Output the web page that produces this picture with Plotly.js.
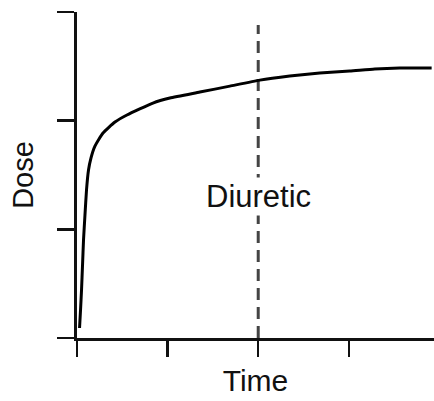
<!DOCTYPE html>
<html>
<head>
<meta charset="utf-8">
<script src="https://cdn.plot.ly/plotly-3.0.1.min.js"></script>
<style>html,body{margin:0;padding:0;background:#fff;}#chart{width:434px;height:401px;}</style>
</head>
<body>
<div id="chart"></div>
<script>
var timeValues = [0.028, 0.039, 0.050, 0.061, 0.072, 0.088, 0.105, 0.127, 0.154, 0.198, 0.287, 0.419, 0.551, 0.838, 1.025, 1.356, 1.687, 2.018, 2.348, 2.679, 3.010, 3.286, 3.561, 3.914];
var doseValues = [0.092, 0.258, 0.442, 0.672, 0.902, 1.132, 1.362, 1.546, 1.656, 1.766, 1.886, 1.987, 2.052, 2.162, 2.208, 2.263, 2.318, 2.373, 2.410, 2.438, 2.456, 2.475, 2.484, 2.484];
var xTicks = [0, 1, 2, 3];
var yTicks = [0, 1, 2, 3];
var diureticTime = 2;
var diureticLabel = "Diuretic";
var dashTop = 2.88;

var trace = {
  x: timeValues,
  y: doseValues,
  mode: 'lines',
  line: {color: '#000', width: 3, shape: 'spline', smoothing: 0.5},
  hoverinfo: 'skip'
};

var layout = {
  width: 434, height: 401,
  margin: {l: 77, r: 0, t: 12, b: 63},
  paper_bgcolor: '#fff', plot_bgcolor: '#fff',
  showlegend: false,
  font: {family: 'Liberation Sans, Arial, sans-serif', color: '#111'},
  xaxis: {
    range: [0, 3.94], tickvals: xTicks, showticklabels: false,
    ticks: 'outside', ticklen: 16, tickwidth: 2.5, tickcolor: '#111',
    showline: true, linewidth: 3, linecolor: '#111',
    showgrid: false, zeroline: false,
    title: {text: 'Time', font: {size: 30, color: '#111'}, standoff: 14}
  },
  yaxis: {
    range: [0, 3], tickvals: yTicks, showticklabels: false,
    ticks: 'outside', ticklen: 17, tickwidth: 2.5, tickcolor: '#111',
    showline: true, linewidth: 3, linecolor: '#111',
    showgrid: false, zeroline: false,
    title: {text: 'Dose', font: {size: 29, color: '#111'}, standoff: 15}
  },
  shapes: [{
    type: 'line', xref: 'x', yref: 'y',
    x0: diureticTime, x1: diureticTime, y0: 0, y1: dashTop,
    line: {color: '#444', width: 3, dash: '12px,7px'},
    layer: 'below'
  }],
  annotations: [{
    xref: 'x', yref: 'y', x: diureticTime, y: 1.30,
    text: diureticLabel, showarrow: false,
    font: {size: 31, color: '#111'}, bgcolor: '#fff'
  }]
};

Plotly.newPlot('chart', [trace], layout, {displayModeBar: false, staticPlot: true});
</script>
</body>
</html>
